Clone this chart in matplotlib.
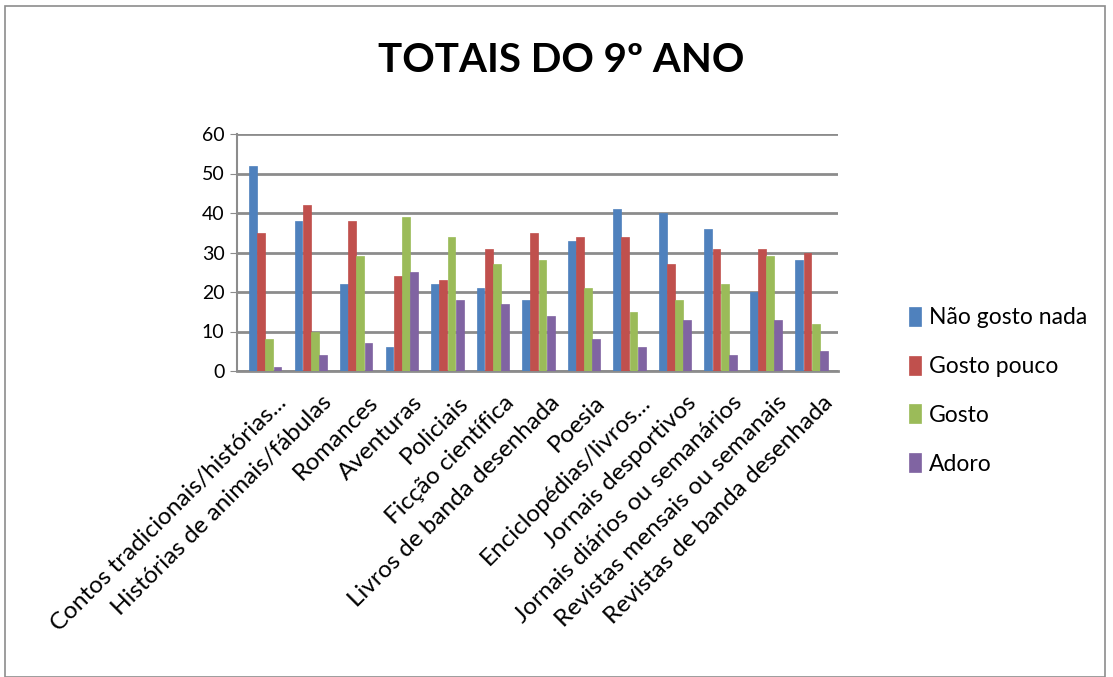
import matplotlib
matplotlib.use("Agg")
import matplotlib.pyplot as plt
import numpy as np
from matplotlib.patches import Rectangle

plt.rcParams['font.family'] = ['Lato', 'DejaVu Sans']

categories = [
    "Contos tradicionais/histórias...",
    "Histórias de animais/fábulas",
    "Romances",
    "Aventuras",
    "Policiais",
    "Ficção científica",
    "Livros de banda desenhada",
    "Poesia",
    "Enciclopédias/livros...",
    "Jornais desportivos",
    "Jornais diários ou semanários",
    "Revistas mensais ou semanais",
    "Revistas de banda desenhada",
]
series_names = ["Não gosto nada", "Gosto pouco", "Gosto", "Adoro"]
nao_gosto_nada = [52, 38, 22, 6, 22, 21, 18, 33, 41, 40, 36, 20, 28]
gosto_pouco = [35, 42, 38, 24, 23, 31, 35, 34, 34, 27, 31, 31, 30]
gosto = [8, 10, 29, 39, 34, 27, 28, 21, 15, 18, 22, 29, 12]
adoro = [1, 4, 7, 25, 18, 17, 14, 8, 6, 13, 4, 13, 5]
yticks = [0, 10, 20, 30, 40, 50, 60]

colors = ["#4F81BD", "#C0504D", "#9BBB59", "#8064A2"]
series = [nao_gosto_nada, gosto_pouco, gosto, adoro]

fig = plt.figure(figsize=(11.13, 6.77), dpi=100)
fig.patch.set_facecolor("white")
fig.add_artist(Rectangle((5/1113, 0.0), 1100/1113, 1 - 6/677, transform=fig.transFigure,
                         fill=False, edgecolor="#8c8c8c", linewidth=1.2))

ax = fig.add_axes([237/1113, 1 - 371/677, 601/1113, 237/677])
x = np.arange(len(categories))
w = 0.18
for i, (vals, c, name) in enumerate(zip(series, colors, series_names)):
    ax.bar(x - 1.5*w + i*w + 0.02, vals, width=w*0.95, color=c, label=name,
           edgecolor=c, linewidth=0.5, zorder=3)

ax.set_xlim(-0.6, len(categories) - 0.4)
ax.set_ylim(0, 60)
ax.set_yticks(yticks)
ax.set_yticklabels([str(t) for t in yticks], fontsize=14)
ax.yaxis.grid(True, color="#8c8c8c", linewidth=2, zorder=0)
ax.set_axisbelow(True)
for s in ["top", "right"]:
    ax.spines[s].set_visible(False)
ax.spines["left"].set_color("#8c8c8c")
ax.spines["left"].set_linewidth(1.5)
ax.spines["bottom"].set_color("#8c8c8c")
ax.spines["bottom"].set_linewidth(2)
ax.tick_params(axis="y", length=5, color="#8c8c8c", pad=4)
ax.tick_params(axis="x", length=0, pad=15)
ax.set_xticks(x + 0.25)
ax.set_xticklabels(categories, rotation=45, ha="right", va="top",
                   rotation_mode="anchor", fontsize=17.5)

fig.text(561/1113, 1 - 60/677, "TOTAIS DO 9º ANO", ha="center", va="center",
         fontsize=29, fontweight="bold")

leg = fig.legend(loc="upper left", bbox_to_anchor=(888/1113, 1 - 286/677),
                 frameon=False, fontsize=16.5, labelspacing=1.2,
                 handlelength=0.55, handleheight=0.9, handletextpad=0.35)

fig.savefig("out.png", dpi=100)
